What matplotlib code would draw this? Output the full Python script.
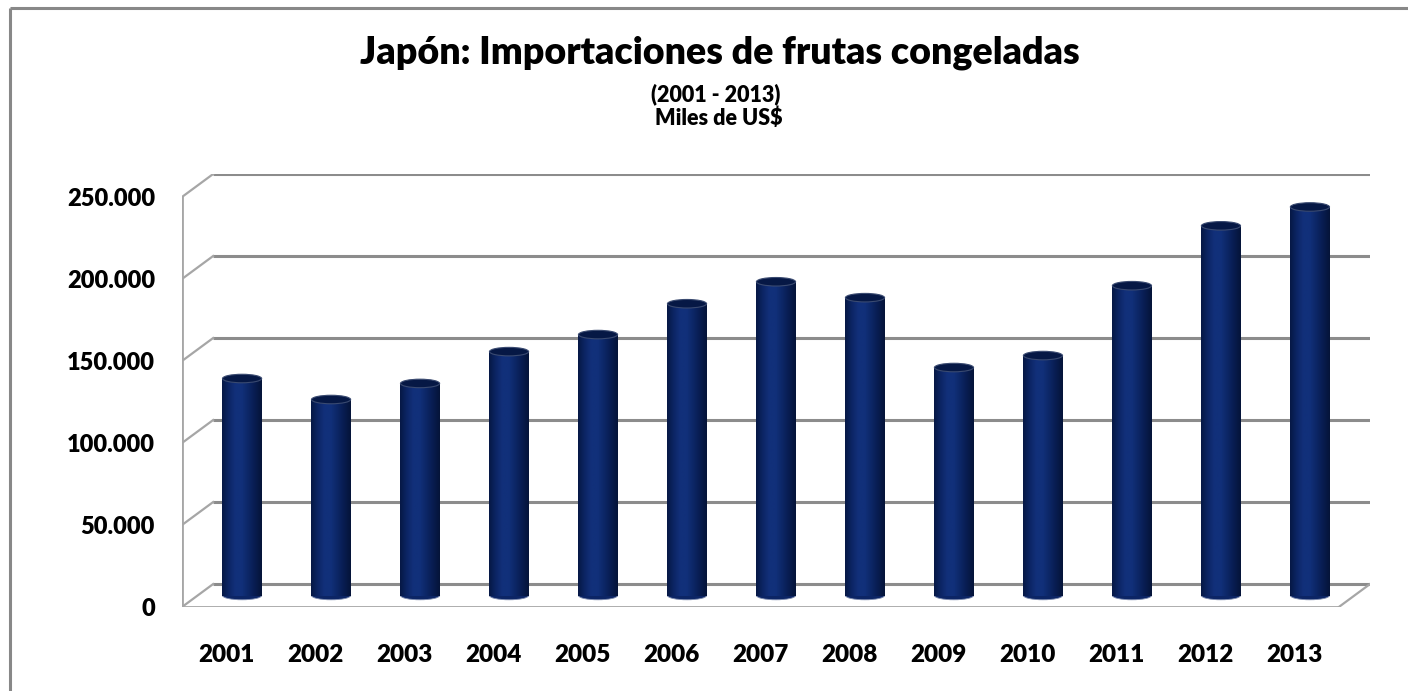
import numpy as np
import matplotlib
matplotlib.use("Agg")
import matplotlib.pyplot as plt
from matplotlib.patches import Ellipse
from matplotlib.colors import LinearSegmentedColormap
from matplotlib.lines import Line2D

# ---------------- data ----------------
years = ["2001", "2002", "2003", "2004", "2005", "2006", "2007",
         "2008", "2009", "2010", "2011", "2012", "2013"]
values = [132300, 119500, 129300, 148700, 159100, 177900, 191300,
          181600, 139000, 146300, 188900, 225400, 236900]
yticks = [0, 50000, 100000, 150000, 200000, 250000]
ytick_labels = ["0", "50.000", "100.000", "150.000", "200.000", "250.000"]
title = "Japón: Importaciones de frutas congeladas"
subtitle1 = "(2001 - 2013)"
subtitle2 = "Miles de US$"

# ---------------- style ----------------
plt.rcParams['font.family'] = ['Lato', 'DejaVu Sans']
W, H = 1408, 691
fig = plt.figure(figsize=(W / 100, H / 100), dpi=100)
fig.patch.set_facecolor("white")

# outer chart border (top and left visible)
fig.add_artist(Line2D([10 / W, 1.0], [1 - 8 / H, 1 - 8 / H], transform=fig.transFigure,
                      color="#888888", lw=2.2, solid_capstyle="butt"))
fig.add_artist(Line2D([10 / W, 10 / W], [0.0, 1 - 8 / H], transform=fig.transFigure,
                      color="#888888", lw=2.2, solid_capstyle="butt"))

ax = fig.add_axes([182 / W, 1 - 607 / H, 1188 / W, 433 / H])
ax.set_axis_off()

n = len(years)
DX = 0.35      # depth offset in category units
DY = 14000     # depth offset in value units
ymax = yticks[-1]

grid_c = "#8c8c8c"
side_c = "#a6a6a6"
# back wall gridlines + side wall diagonals
for v in yticks:
    ax.plot([-0.5 + DX, n - 0.5 + DX], [v + DY, v + DY], color=grid_c, lw=2.2,
            solid_capstyle="butt", zorder=1)
    ax.plot([-0.5, -0.5 + DX], [v, v + DY], color=side_c, lw=1.6, zorder=1)
# front left edge
ax.plot([-0.5, -0.5], [0, ymax], color=side_c, lw=2.0, zorder=1)
# floor front and right edges
ax.plot([-0.5, n - 0.5], [0, 0], color=side_c, lw=2.0, zorder=1)
ax.plot([n - 0.5, n - 0.5 + DX], [0, DY], color=side_c, lw=1.6, zorder=1)

# cylinders
cmap = LinearSegmentedColormap.from_list(
    "cyl", ["#061845", "#0c2565", "#12307a", "#11307a", "#0c2665", "#081c50", "#051439"])
grad = np.linspace(0, 1, 64).reshape(1, -1)
bw = 0.44
eh = 5200
for i, v in enumerate(values):
    xc = i + DX / 2
    base = DY / 2
    top = v + DY / 2
    ax.imshow(grad, cmap=cmap, aspect="auto", interpolation="bilinear",
              extent=(xc - bw / 2, xc + bw / 2, base, top), zorder=3)
    ax.add_patch(Ellipse((xc, base), bw, eh, facecolor="#0c2565", edgecolor="#7f8db0",
                         lw=0.6, zorder=2.9))
    ax.add_patch(Ellipse((xc, top), bw, eh, facecolor="#061845", edgecolor="#3a4a70",
                         lw=0.8, zorder=4))

ax.set_xlim(-0.5, n - 0.5 + DX)
ax.set_ylim(0, ymax + DY)

# y tick labels (on front edge)
for v, lab in zip(yticks, ytick_labels):
    ax.annotate(lab, xy=(-0.5, v), xytext=(-27 * 0.72, 0), textcoords="offset points",
                ha="right", va="center_baseline", fontsize=17, fontweight="heavy", color="black")
# x tick labels
for i, lab in enumerate(years):
    ax.annotate(lab, xy=(i, 0), xytext=(0, -46 * 0.72), textcoords="offset points",
                ha="center", va="center_baseline", fontsize=17.5, fontweight="heavy", color="black")

# titles
fig.text(720 / W, 1 - 63 / H, title, ha="center", va="baseline", fontsize=27,
         fontweight="heavy", color="black")
fig.text(716 / W, 1 - 101 / H, subtitle1, ha="center", va="baseline", fontsize=15.5,
         fontweight="heavy", color="black")
fig.text(719 / W, 1 - 125 / H, subtitle2, ha="center", va="baseline", fontsize=15.5,
         fontweight="heavy", color="black")

fig.savefig("out.png", dpi=100, facecolor="white")
